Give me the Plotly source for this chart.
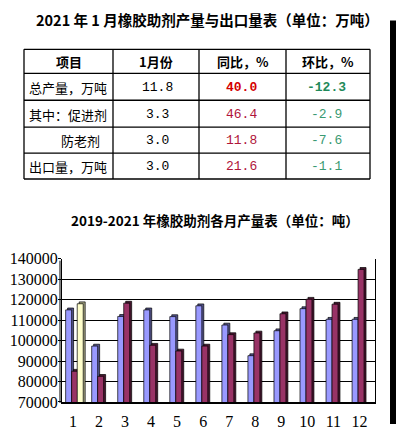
import plotly.graph_objects as go

# ---------------- data ----------------
table_title = "2021 年 1 月橡胶助剂产量与出口量表（单位：万吨）"
table_headers = ["项目", "1月份", "同比，%", "环比，%"]
row_labels = ["总产量，万吨", "其中：促进剂", "防老剂", "出口量，万吨"]
jan_values = ["11.8", "3.3", "3.0", "3.0"]
yoy_values = ["40.0", "46.4", "11.8", "21.6"]
mom_values = ["-12.3", "-2.9", "-7.6", "-1.1"]

chart_title = "2019-2021 年橡胶助剂各月产量表（单位：吨）"
months = [1, 2, 3, 4, 5, 6, 7, 8, 9, 10, 11, 12]
prod_2019 = [115000, 97300, 111800, 115000, 111700, 117000, 107600, 92600, 104800, 115600, 110400, 110400]
prod_2020 = [85000, 82500, 118300, 97700, 94900, 97300, 102900, 103700, 113100, 120200, 117800, 134800]
prod_2021 = [118000, None, None, None, None, None, None, None, None, None, None, None]
y_ticks = [70000, 80000, 90000, 100000, 110000, 120000, 130000, 140000]

# ---------------- layout helpers ----------------
W, H = 396, 433
def px(x):
    return x / W
def py(y):
    return 1 - y / H

fig = go.Figure()

# 3D-ish bars: a darker "depth" bar behind each front bar
DEPTH_Y = 900
DEPTH_X = 0.075
BAR_W = 0.23
series = [
    (prod_2019, "#9999ff", "#55558f", -0.28),
    (prod_2020, "#993366", "#4a1630", -0.05),
    (prod_2021, "#ffffcc", "#a8a884", 0.165),
]
for vals, col, dark, off in series:
    depth_vals = [v + DEPTH_Y if v is not None else None for v in vals]
    fig.add_trace(go.Bar(x=months, y=depth_vals, offset=off + DEPTH_X, width=BAR_W,
                         marker=dict(color=dark, line=dict(color="black", width=0.7)),
                         showlegend=False, hoverinfo="skip"))
    fig.add_trace(go.Bar(x=months, y=vals, offset=off, width=BAR_W,
                         marker=dict(color=col, line=dict(color="black", width=0.7)),
                         showlegend=False))

y_top, y_bot = 261, 410
fig.update_layout(
    width=W, height=H, autosize=False,
    margin=dict(l=0, r=0, t=0, b=0),
    paper_bgcolor="white", plot_bgcolor="white",
    barmode="overlay",
    xaxis=dict(domain=[px(62), px(375)], range=[0.58, 12.6], tickvals=months,
               ticktext=[str(m) for m in months], showgrid=False, zeroline=False,
               showline=True, linecolor="black", linewidth=2, ticks="",
               ticklabelstandoff=4,
               tickfont=dict(family="Liberation Serif", size=16, color="black")),
    yaxis=dict(domain=[py(y_bot), py(y_top)], range=[70000, 140000], tickvals=y_ticks,
               tickformat="d", ticklabelstandoff=-3,
               showgrid=True, gridcolor="black", gridwidth=1, zeroline=False,
               showline=True, linecolor="black", linewidth=1, mirror=True,
               ticks="outside", ticklen=3, tickcolor="black",
               tickfont=dict(family="Liberation Serif", size=16, color="black")),
)

shapes = []
# left wall second line
shapes.append(dict(type="line", xref="paper", yref="paper", x0=px(60), x1=px(60),
                   y0=py(y_top + 2), y1=py(y_bot + 1), line=dict(color="black", width=1)))

# table grid
col_x = [24, 113, 199, 286, 370]
row_y = [43, 68, 96, 124, 151, 178]
for x in col_x:
    shapes.append(dict(type="line", xref="paper", yref="paper", x0=px(x), x1=px(x),
                       y0=py(row_y[0]), y1=py(row_y[-1]), line=dict(color="black", width=1.3)))
for y in row_y:
    shapes.append(dict(type="line", xref="paper", yref="paper", x0=px(col_x[0]), x1=px(col_x[-1]),
                       y0=py(y), y1=py(y), line=dict(color="black", width=1.3)))
# black strip on right edge
shapes.append(dict(type="rect", xref="paper", yref="paper", x0=px(390), x1=1,
                   y0=0, y1=py(13), fillcolor="black", line=dict(width=0)))
fig.update_layout(shapes=shapes)

cjk = "Noto Sans CJK SC"
mono = "Liberation Mono"
ann = []
def text(x, y, s, family, size, color="black", xanchor="center"):
    ann.append(dict(x=px(x), y=py(y), xref="paper", yref="paper", text=s, showarrow=False,
                    xanchor=xanchor, yanchor="middle",
                    font=dict(family=family, size=size, color=color)))

text(207, 12, "<b>" + table_title + "</b>", cjk, 14.5)
text(215, 221, "<b>" + chart_title + "</b>", cjk, 13.5)

head_y = 56
row_cy = [83, 111, 138, 165]
centers = [(col_x[i] + col_x[i + 1]) / 2 for i in range(4)]
for i, h in enumerate(table_headers):
    text(centers[i], head_y, "<b>" + h + "</b>", cjk, 13)

label_align = ["left", "left", "right", "left"]
for i in range(4):
    if label_align[i] == "left":
        text(27, row_cy[i], row_labels[i], cjk, 13, xanchor="left")
    else:
        text(102, row_cy[i], row_labels[i], cjk, 13, xanchor="right")
    text(157, row_cy[i], jan_values[i], mono, 13)
    if i == 0:
        text(241, row_cy[i], "<b>" + yoy_values[i] + "</b>", mono, 13, color="#d40000")
        text(326, row_cy[i], "<b>" + mom_values[i] + "</b>", mono, 13, color="#1f8a5a")
    else:
        text(241, row_cy[i], yoy_values[i], mono, 13, color="#b0143a")
        text(326, row_cy[i], mom_values[i], mono, 13, color="#3a9a72")

fig.update_layout(annotations=ann)
fig.write_html("out.html", config={"displayModeBar": False},
               post_script="document.body.style.margin='0';document.body.style.overflow='hidden';")
